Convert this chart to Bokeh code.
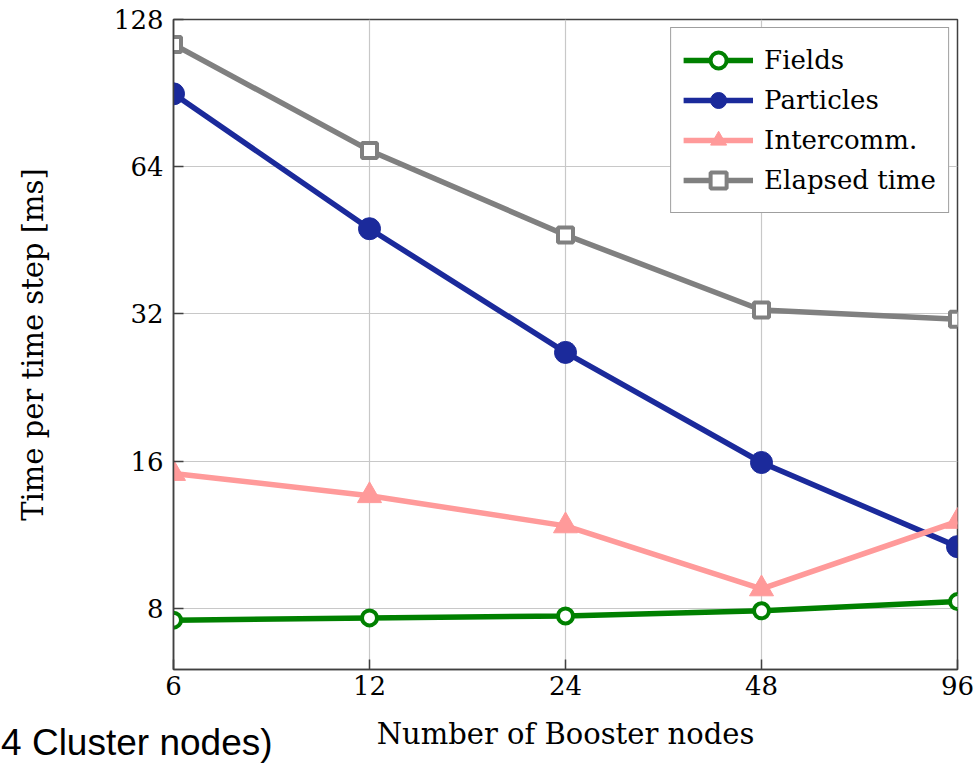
from bokeh.plotting import figure
from bokeh.models import (LogAxis, FixedTicker, Legend, LegendItem,
                          Range1d, BasicTickFormatter)
from bokeh.embed import file_html
from bokeh.resources import INLINE

# ---- data -----------------------------------------------------------
booster_nodes = [6, 12, 24, 48, 96]
fields = [7.57, 7.65, 7.72, 7.91, 8.26]
particles = [90.2, 47.8, 26.7, 15.9, 10.7]
intercomm = [15.1, 13.6, 11.8, 8.77, 12.05]
elapsed = [113.8, 69.1, 46.4, 32.6, 31.2]

x_ticks = [6, 12, 24, 48, 96]
y_ticks = [8, 16, 32, 64, 128]

x_title = "Number of Booster nodes"
y_title = "Time per time step [ms]"
side_note = "4 Cluster nodes)"
side_note_anchor = 6.07   # x position of the (centred, padded) cut-off caption

SERIF = "DejaVu Serif"
AX = "#404040"

p = figure(width=974, height=765, x_axis_type="log", y_axis_type="log",
           x_range=Range1d(6, 96), y_range=Range1d(6, 128),
           output_backend="svg", toolbar_location=None,
           min_border_left=173, min_border_right=17,
           min_border_top=19, min_border_bottom=96)
p.background_fill_color = "white"
p.border_fill_color = "white"
p.outline_line_color = AX
p.outline_line_width = 1.5

for ax, ticks in ((p.xaxis[0], x_ticks), (p.yaxis[0], y_ticks)):
    ax.ticker = FixedTicker(ticks=ticks, minor_ticks=[])
    ax.formatter = BasicTickFormatter()
    ax.major_label_text_font = SERIF
    ax.major_label_text_font_size = "26px"
    ax.major_label_text_color = "black"
    ax.axis_line_color = AX
    ax.axis_line_width = 1.5
    ax.major_tick_line_color = AX
    ax.major_tick_line_width = 1.5
    ax.major_tick_in = 10
    ax.major_tick_out = 0
    ax.minor_tick_line_color = None
    ax.axis_label_text_font = SERIF
    ax.axis_label_text_font_style = "normal"
    ax.axis_label_text_color = "black"

p.xaxis.major_label_standoff = 6
p.xaxis.axis_label = x_title
p.xaxis.axis_label_text_font_size = "29px"
p.xaxis.axis_label_standoff = 19

p.yaxis.major_label_standoff = 10
p.yaxis.axis_label = y_title
p.yaxis.axis_label_text_font_size = "29px"
p.yaxis.axis_label_standoff = 61

# caption fragment at the bottom-left (sans-serif), on the title row
NBSP = "\u00a0"
cap_axis = LogAxis(ticker=FixedTicker(ticks=[side_note_anchor], minor_ticks=[]),
                   major_label_overrides={side_note_anchor: side_note + NBSP * 8},
                   major_label_text_font="Liberation Sans",
                   major_label_text_font_size="37px",
                   major_label_text_color="black",
                   major_label_standoff=-32,
                   axis_line_color=None, major_tick_line_color=None,
                   minor_tick_line_color=None,
                   major_tick_in=0, major_tick_out=0)
p.add_layout(cap_axis, "below")

p.xgrid.ticker = FixedTicker(ticks=x_ticks, minor_ticks=[])
p.ygrid.ticker = FixedTicker(ticks=y_ticks, minor_ticks=[])
p.grid.grid_line_color = "#c8c8c8"
p.grid.grid_line_width = 1.2

LW = 5.5
items = []

lf = p.line(booster_nodes, fields, line_color="#008000", line_width=LW)
sf = p.scatter(booster_nodes, fields, marker="circle", size=15,
               fill_color="white", line_color="#008000", line_width=4)
items.append(LegendItem(label="Fields", renderers=[lf, sf]))

lp = p.line(booster_nodes, particles, line_color="#1b2a9b", line_width=LW)
sp = p.scatter(booster_nodes, particles, marker="circle", size=22,
               fill_color="#1b2a9b", line_color="#1b2a9b", line_width=1)
items.append(LegendItem(label="Particles", renderers=[lp, sp]))

li = p.line(booster_nodes, intercomm, line_color="#ff9a9a", line_width=LW)
si = p.scatter(booster_nodes, intercomm, marker="triangle", size=24,
               fill_color="#ff9a9a", line_color="#ff9a9a", line_width=1)
items.append(LegendItem(label="Intercomm.", renderers=[li, si]))

le = p.line(booster_nodes, elapsed, line_color="#808080", line_width=LW)
se = p.scatter(booster_nodes, elapsed, marker="square", size=15,
               fill_color="white", line_color="#808080", line_width=4)
items.append(LegendItem(label="Elapsed time", renderers=[le, se]))

legend = Legend(items=items, location="top_right")
legend.margin = 8
legend.padding = 12
legend.spacing = 0
legend.label_height = 40
legend.glyph_height = 40
legend.glyph_width = 70
legend.label_standoff = 11
legend.label_text_font = SERIF
legend.label_text_font_size = "26px"
legend.label_text_color = "black"
legend.border_line_color = "#404040"
legend.border_line_width = 1.5
legend.background_fill_alpha = 1
p.add_layout(legend)

open("out.html", "w").write(file_html(p, INLINE))
